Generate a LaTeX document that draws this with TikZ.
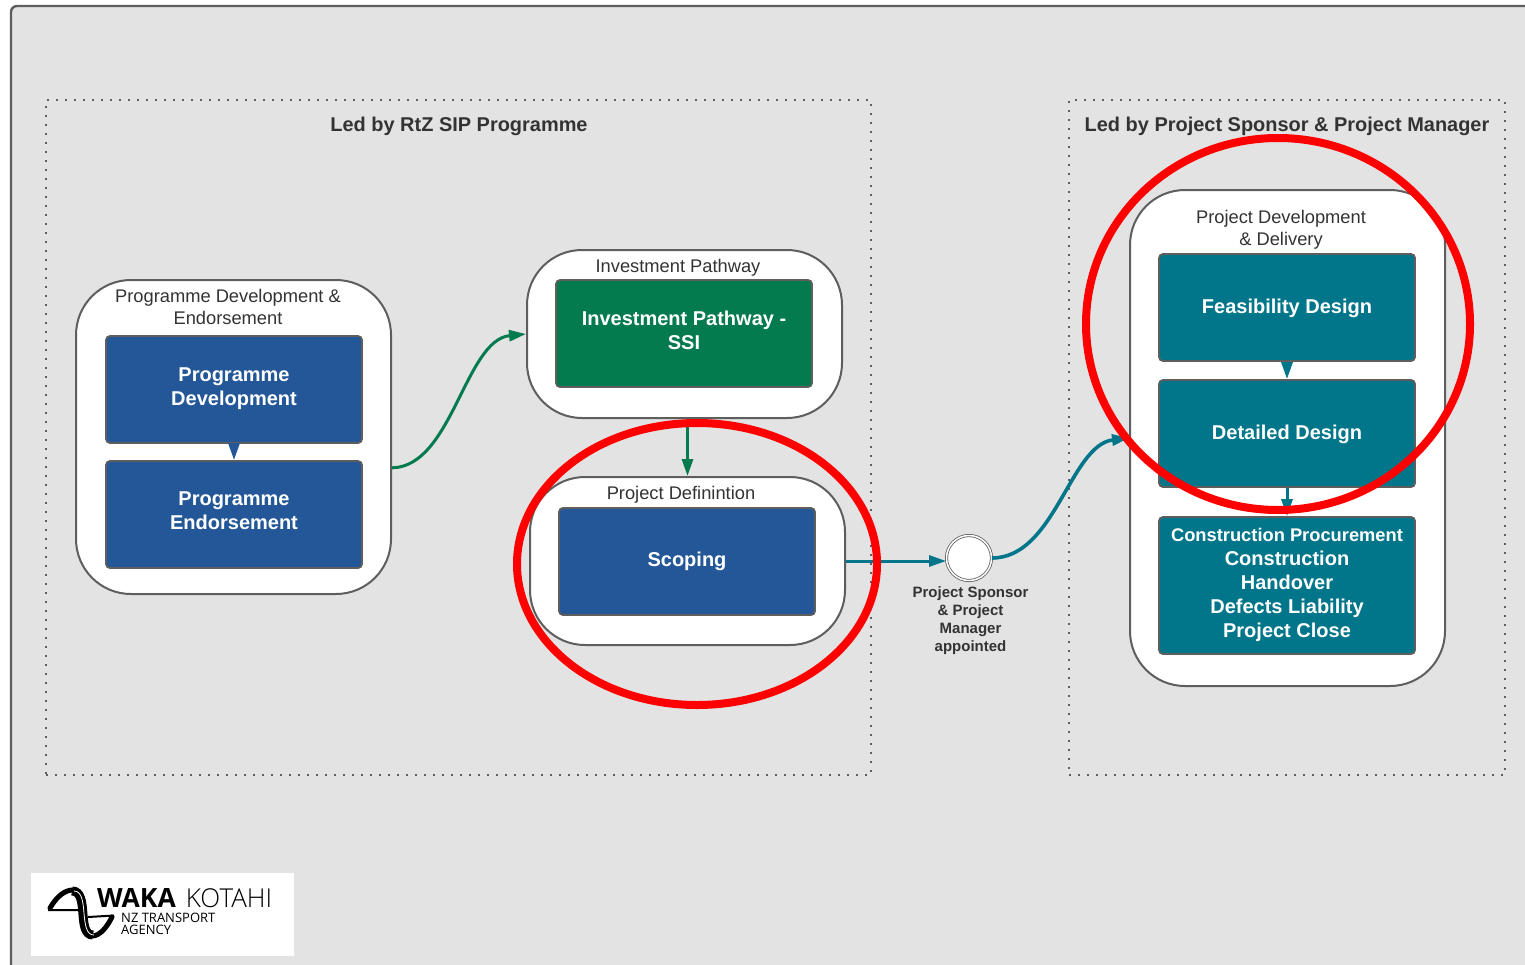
\documentclass[tikz,border=0pt]{standalone}
\usepackage{fontspec}
\setmainfont{Liberation Sans}
\newfontfamily\logofont{Open Sans}
\newfontfamily\logolight{Open Sans Light}
\usetikzlibrary{arrows.meta,calc}
\definecolor{bgc}{HTML}{E3E3E3}
\definecolor{edgec}{HTML}{5E5E5E}
\definecolor{txtc}{HTML}{333333}
\definecolor{bluec}{HTML}{235797}
\definecolor{greenc}{HTML}{047A4F}
\definecolor{tealc}{HTML}{01768A}
\definecolor{redc}{HTML}{FF0000}
\tikzset{
 x=1pt,y=-1pt,
 container/.style={draw=edgec,line width=2pt,fill=white,rounded corners=55pt,inner sep=0pt},
 procbox/.style={draw=edgec,line width=1.8pt,rounded corners=4pt,minimum width=256pt,inner sep=0pt},
 boxtext/.style={text=white,align=center,inner sep=0pt,font=\fontsize{20}{24}\selectfont\bfseries},
 boxlabel/.style={text=txtc,align=center,inner sep=0pt,font=\fontsize{18.3}{22}\selectfont},
 titlelabel/.style={text=txtc,align=center,inner sep=0pt,font=\fontsize{19.95}{24}\selectfont\bfseries},
 smalllabel/.style={text=txtc,align=center,inner sep=0pt,font=\fontsize{15}{18}\selectfont\bfseries},
 region/.style={draw=edgec,line width=2pt,dash pattern=on 2pt off 7pt,inner sep=0pt},
 flow/.style={line width=3pt,-{Triangle[length=17pt,width=11pt]}},
 hoop/.style={draw=redc,line width=8pt},
}
\begin{document}
\begin{tikzpicture}
\useasboundingbox (0,0) rectangle (1525,964);
% page frame
\fill[white] (0,0) rectangle (1525,964);
\fill[bgc] (1526,6) -- (17,6) arc[start angle=90,end angle=180,x radius=6,y radius=-6] -- (11,965) -- (1526,965) -- cycle;
\draw[edgec,line width=2.4pt] (1526,6) -- (17,6) arc[start angle=90,end angle=180,x radius=6,y radius=-6] -- (11,965);
% regions
\node[region,minimum width=825pt,minimum height=675pt] (left) at (458.5,437.5) {};
\node[region,minimum width=436pt,minimum height=675pt] (right) at (1287,437.5) {};
\node[titlelabel] (ltitle) at (459,126) {Led by RtZ SIP Programme};
\node[titlelabel] (rtitle) at (1287,126) {Led by Project Sponsor \& Project Manager};
% containers
\node[container,minimum width=315pt,minimum height=314pt] (prog) at (233.5,437) {};
\node[container,minimum width=315pt,minimum height=168pt] (invest) at (684.5,334) {};
\node[container,minimum width=315pt,minimum height=168pt] (projdef) at (687.5,561) {};
\node[container,minimum width=315pt,minimum height=496pt] (pdd) at (1287.5,438) {};
\node[boxlabel] (progl) at (228,307) {Programme Development \&\\Endorsement};
\node[boxlabel] (investl) at (678,267.5) {Investment Pathway};
\node[boxlabel] (projl) at (681,494.5) {Project Definintion};
\node[boxlabel] (pddl) at (1281,230) {Project Development\\\& Delivery};
% boxes
\node[procbox,fill=bluec,minimum height=107pt] (pd) at (234,389.5) {};
\node[procbox,fill=bluec,minimum height=107pt] (pe) at (234,514.5) {};
\node[procbox,fill=greenc,minimum height=107pt] (ssi) at (684,333.5) {};
\node[procbox,fill=bluec,minimum height=107pt] (scope) at (687,561.5) {};
\node[procbox,fill=tealc,minimum height=107pt] (feas) at (1287,307.5) {};
\node[procbox,fill=tealc,minimum height=107pt] (det) at (1287,433.5) {};
\node[procbox,fill=tealc,minimum height=137pt] (con) at (1287,585.5) {};
\node[boxtext] (pdt) at (234,388.5) {Programme\\Development};
\node[boxtext] (pet) at (234,510.5) {Programme\\Endorsement};
\node[boxtext] (ssit) at (684,330.5) {Investment Pathway -\\SSI};
\node[boxtext] (scopet) at (687,561.5) {Scoping};
\node[boxtext] (feast) at (1287,308.5) {Feasibility Design};
\node[boxtext] (dett) at (1287,434.5) {Detailed Design};
\node[boxtext] (cont) at (1287,585) {\fontsize{18.3}{24}\selectfont Construction Procurement\\Construction\\Handover\\Defects Liability\\Project Close};
% event
\node[circle,draw=edgec,line width=0.8pt,fill=white,minimum size=45pt,double=white,double distance=1.5pt,inner sep=0pt] (evt) at (969,558) {};
\node[smalllabel] (evtl) at (970.5,620.5) {Project Sponsor\\\& Project\\Manager\\appointed};
% connectors
\draw[flow,draw=bluec,fill=bluec] (pd.south) -- (pe.north);
\draw[flow,draw=tealc,fill=tealc] (feas.south) -- (det.north);
\draw[flow,draw=tealc,fill=tealc] (det.south) -- (con.north);
\draw[flow,draw=greenc] (prog.-11.3) .. controls (452,467) and (465,340) .. (invest.west);
\draw[flow,draw=greenc] (projdef.north |- invest.south) -- (projdef.north);
\draw[flow,draw=tealc] (projdef.east) -- (projdef.east -| evt.west);
\draw[flow,draw=tealc,line width=3.6pt] (evt.east) .. controls (1055,558) and (1070,445) .. (pdd.west);
% red hoops
\draw[hoop] (697,564) ellipse [x radius=180,y radius=141];
\draw[hoop] (1278,324) ellipse [x radius=192,y radius=186];
% logo
\fill[white] (31,873) rectangle (294,956);
\node[inner sep=0pt] (logoa) at (136.5,898) {\logofont\fontsize{26.5}{26.5}\selectfont\bfseries WAKA};
\node[inner sep=0pt] (logob) at (229,898) {\logolight\fontsize{26}{26}\selectfont KOTAHI};
\node[anchor=north west,inner sep=0pt,align=left,text=black,font=\logofont\fontsize{13}{12}\selectfont] (logoc) at (121,912.5) {NZ TRANSPORT\\AGENCY};
\draw[black,line width=5pt,line cap=round] (50,908) .. controls (57,896) and (65,890) .. (73,890);
\draw[black,line width=5pt,line cap=round] (92,936) .. controls (100,936) and (107,927) .. (112,917);
\draw[black,line width=9pt] (72,891) .. controls (90,891) and (76,935) .. (93,935);
\draw[white,line width=0.8pt] (74,891) .. controls (90,891) and (78,935) .. (94,935);
\draw[black,line width=2pt] (48,910) -- (80,910) (88,917) -- (114,915.5);
\end{tikzpicture}
\end{document}
